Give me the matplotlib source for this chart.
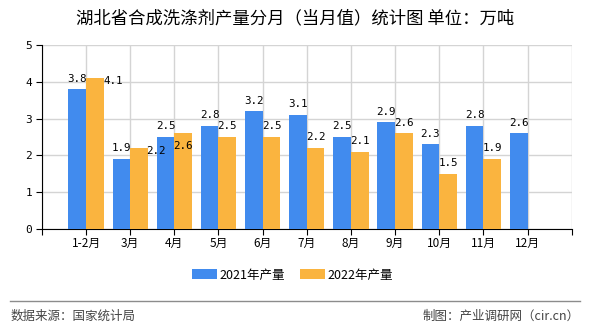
import matplotlib.pyplot as plt
import numpy as np

months = ["1-2月", "3月", "4月", "5月", "6月", "7月", "8月", "9月", "10月", "11月", "12月"]
prod_2021 = [3.8, 1.9, 2.5, 2.8, 3.2, 3.1, 2.5, 2.9, 2.3, 2.8, 2.6]
prod_2022 = [4.1, 2.2, 2.6, 2.5, 2.5, 2.2, 2.1, 2.6, 1.5, 1.9]

plt.rcParams['font.family'] = ['Noto Sans CJK SC', 'DejaVu Sans']

blue = '#418BEE'
orange = '#FAB43F'
cjk = ['Noto Sans CJK SC', 'DejaVu Sans']
mono = ['DejaVu Sans Mono']

fig = plt.figure(figsize=(5.9, 3.3), dpi=100)
ax = fig.add_axes([0.071, 0.306, 0.898, 0.558])

x = np.arange(1, len(months) + 1)
w = 0.4
ax.bar(x[:len(prod_2021)] - w / 2, prod_2021, w, color=blue, label='2021年产量', zorder=3)
ax.bar(x[:len(prod_2022)] + w / 2, prod_2022, w, color=orange, label='2022年产量', zorder=3)

# value labels (a few orange ones are nudged to avoid the blue ones)
nudge = {0: (13, -10), 1: (12, -10), 2: (0, -17)}
for i, v in enumerate(prod_2021):
    ax.annotate(f"{v}", (x[i] - w / 2, v), xytext=(0, 4), textcoords='offset points',
                ha='center', va='bottom', fontsize=7.8, family=mono, zorder=4)
for i, v in enumerate(prod_2022):
    dx, dy = nudge.get(i, (0, 0))
    ax.annotate(f"{v}", (x[i] + w / 2, v), xytext=(dx, 4 + dy), textcoords='offset points',
                ha='center', va='bottom', fontsize=7.8, family=mono, zorder=4)

ax.set_xlim(0, 12)
ax.set_ylim(0, 5)
ax.set_xticks(np.arange(0, 13))
ax.set_xticklabels([''] + months + [''])
ax.set_yticks(range(6))
ax.tick_params(axis='x', length=4, labelsize=8.5, pad=2)
ax.tick_params(axis='y', length=4, labelsize=8, pad=3)
for lab in ax.get_yticklabels():
    lab.set_family(mono)

ax.grid(True, color='#d4d4d4', linewidth=1, zorder=0)
ax.set_axisbelow(True)
for s in ['top', 'right']:
    ax.spines[s].set_visible(False)
ax.spines['left'].set_color('black')
ax.spines['bottom'].set_color('black')

fig.text(0.5, 0.945, '湖北省合成洗涤剂产量分月（当月值）统计图 单位：万吨',
         ha='center', va='center', fontsize=12.5, family=cjk)

ax.legend(loc='center', ncol=2, frameon=False, fontsize=9, handlelength=2.0,
          handleheight=0.8, columnspacing=1.2, handletextpad=0.2)
leg = ax.get_legend()
leg.set_bbox_to_anchor((0.495, 1 - 275 / 330), transform=fig.transFigure)

fig.add_artist(plt.Line2D([0.017, 0.983], [1 - 301 / 330] * 2, color='#8c8c8c', linewidth=1))
fig.text(0.017, 1 - 316 / 330, '数据来源：国家统计局', ha='left', va='center',
         fontsize=9, color='#444444', family=cjk)
fig.text(0.983, 1 - 316 / 330, '制图：产业调研网（cir.cn）', ha='right', va='center',
         fontsize=9, color='#444444', family=cjk)

fig.savefig('out.png', dpi=100)
